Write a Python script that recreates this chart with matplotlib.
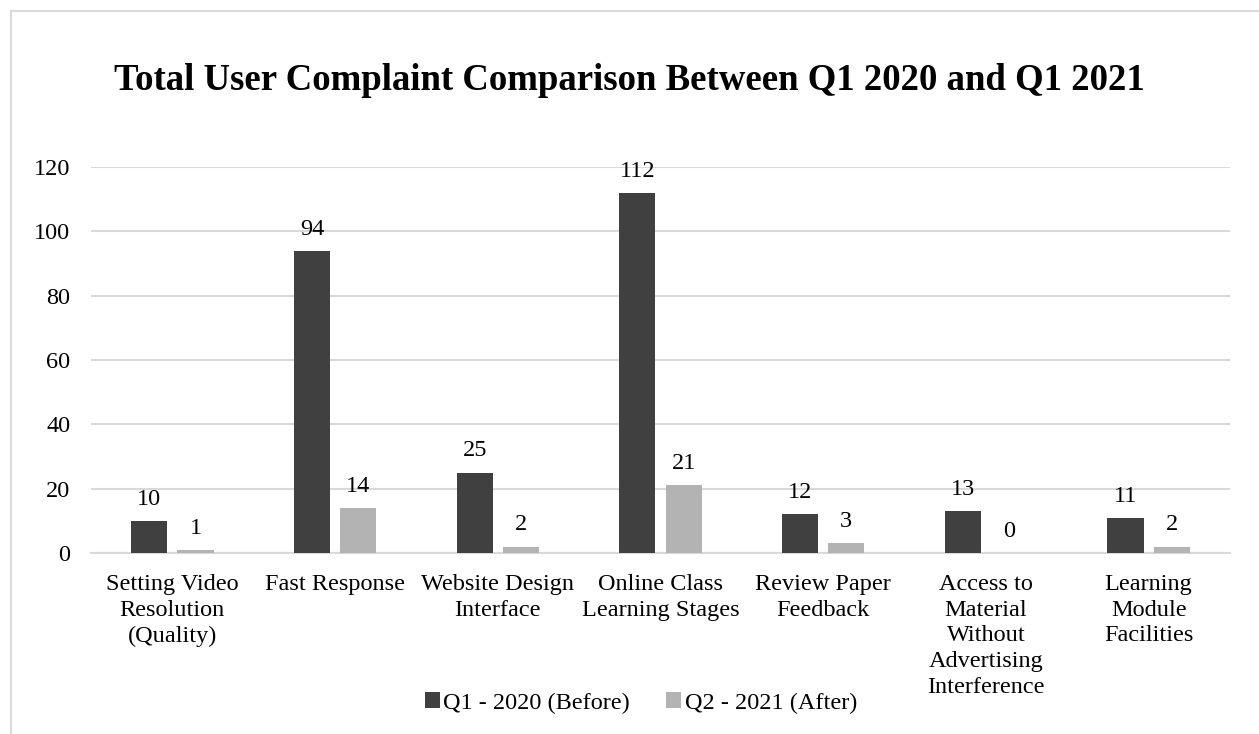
import matplotlib
matplotlib.use("Agg")
import matplotlib.pyplot as plt
from matplotlib.patches import Rectangle
import numpy as np

# Chart data
categories = [
    "Setting Video\nResolution\n(Quality)",
    "Fast Response",
    "Website Design\nInterface",
    "Online Class\nLearning Stages",
    "Review Paper\nFeedback",
    "Access to\nMaterial\nWithout\nAdvertising\nInterference",
    "Learning\nModule\nFacilities",
]
before_2020 = [10, 94, 25, 112, 12, 13, 11]
after_2021 = [1, 14, 2, 21, 3, 0, 2]
series_names = ["Q1 - 2020 (Before)", "Q2 - 2021 (After)"]
yticks = [0, 20, 40, 60, 80, 100, 120]

DARK = "#404040"
LIGHT = "#b3b3b3"
GRID = "#d9d9d9"
FS = 17.5

plt.rcParams["font.family"] = ["Liberation Serif", "DejaVu Serif"]

fig = plt.figure(figsize=(12.59, 7.34), dpi=100)
ax = fig.add_axes([91 / 1259, 1 - 553 / 734, (1230 - 91) / 1259, (553 - 167) / 734])

# outer chart frame (only top/left edges visible in the crop)
fig.patches.append(Rectangle((11 / 1259, -0.1), 1.2, 1 - 11 / 734 + 0.1,
                             transform=fig.transFigure, fill=False,
                             edgecolor=GRID, linewidth=1.5))

x = np.arange(len(categories))
w = 0.222
off = 0.142
b1 = ax.bar(x - off, before_2020, w, color=DARK, label=series_names[0], zorder=3)
b2 = ax.bar(x + off, after_2021, w, color=LIGHT, label=series_names[1], zorder=3)

for bars in (b1, b2):
    for rect in bars:
        h = rect.get_height()
        ax.annotate(f"{h:g}", (rect.get_x() + rect.get_width() / 2, h),
                    xytext=(0, 8), textcoords="offset points",
                    ha="center", va="bottom", fontsize=FS)

ax.set_xlim(-0.5, len(categories) - 0.5)
ax.set_ylim(0, 120)
ax.set_yticks(yticks)
ax.set_xticks(x)
ax.set_xticklabels(categories, fontsize=FS, linespacing=1.3)
ax.tick_params(axis="y", labelsize=FS, length=0, pad=15)
ax.tick_params(axis="x", length=0, pad=15)
ax.yaxis.grid(True, color=GRID, linewidth=1.5, zorder=0)
for s in ("top", "right", "left"):
    ax.spines[s].set_visible(False)
ax.spines["bottom"].set_color(GRID)
ax.spines["bottom"].set_linewidth(1.5)

fig.text(0.5, 1 - 80 / 734, "Total User Complaint Comparison Between Q1 2020 and Q1 2021",
         ha="center", va="center", fontsize=26.5, fontweight="bold")

fig.legend(loc="center", bbox_to_anchor=(641 / 1259, 1 - 703 / 734), ncol=2,
           frameon=False, fontsize=FS, handlelength=0.6, handleheight=0.6,
           handletextpad=0.15, columnspacing=1.5)

fig.savefig("out.png", dpi=100)
